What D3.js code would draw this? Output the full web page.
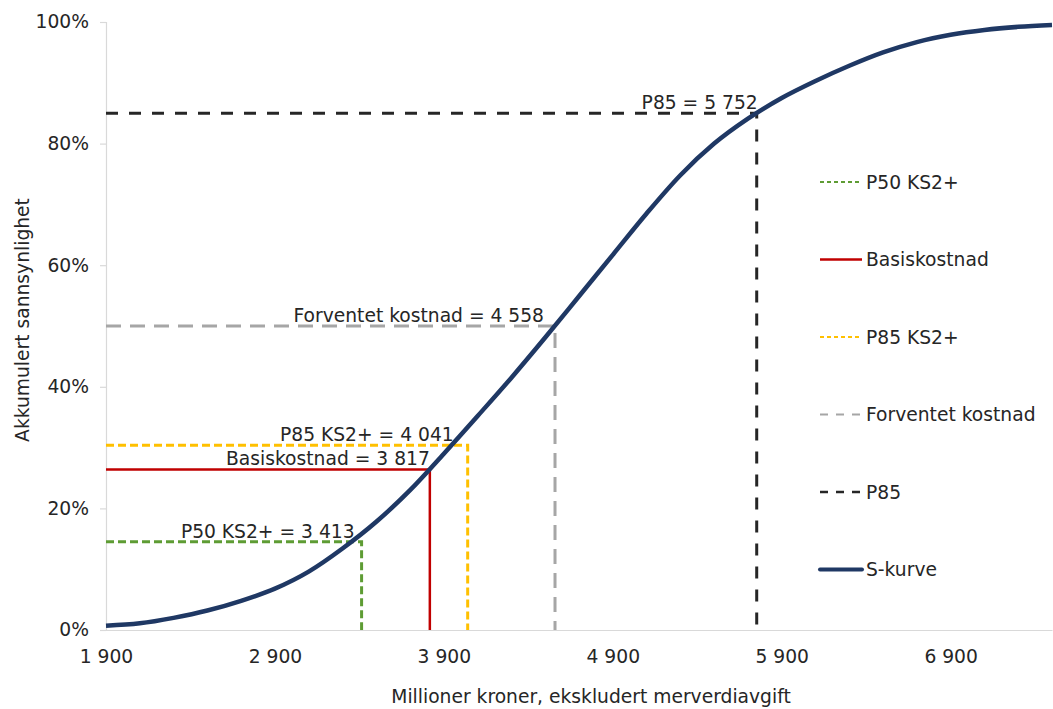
<!DOCTYPE html>
<html><head><meta charset="utf-8">
<script src="https://cdn.jsdelivr.net/npm/d3@7/dist/d3.min.js"></script>
<style>
html,body{margin:0;padding:0;background:#fff;}
text{font-family:"DejaVu Sans",Verdana,sans-serif;fill:#262626;}
</style></head>
<body>
<svg id="chart" width="1053" height="709"></svg>
<script>
// S-curve (cost in MNOK, cumulative probability in %)
const sCost = [1900,2100,2300,2500,2700,2900,3100,3300,3500,3700,3900,4100,4300,4500,4700,4900,5100,5300,5500,5700,5900,6100,6300,6500,6700,6900,7100,7300,7500];
const sProb = [0.7,1.1,2.0,3.2,4.8,6.8,9.6,13.4,17.8,23.0,29.0,35.2,41.5,48.1,54.9,61.7,68.5,74.8,80.0,84.1,87.5,90.3,92.8,95.0,96.7,97.9,98.7,99.2,99.5];

// Reference markers
const markerNames  = ["P50 KS2+","Basiskostnad","P85 KS2+","Forventet kostnad","P85"];
const markerLabels = ["P50 KS2+ = 3 413","Basiskostnad = 3 817","P85 KS2+ = 4 041","Forventet kostnad = 4 558","P85 = 5 752"];
const markerValues = [3413,3817,4041,4558,5752];
const markerProbs  = [14.5,26.4,30.4,50,85];

const legendNames = ["P50 KS2+","Basiskostnad","P85 KS2+","Forventet kostnad","P85","S-kurve"];

const xTicks = [1900,2900,3900,4900,5900,6900];
const yTicks = [0,20,40,60,80,100];
const xDomain = [1900,7500];

// styles
const FS = "18.7px";
const markerStyles = [
  {color:"#5e9c34", dash:"8,4", legendDash:"4,3", w:3, lw:2, dx:-7},
  {color:"#c00000", dash:null, legendDash:null, w:2.5, lw:2.5, dx:0},
  {color:"#ffc000", dash:"8,4", legendDash:"4,3", w:3, lw:2, dx:-14},
  {color:"#a6a6a6", dash:"15,9", legendDash:"8,8", w:3, lw:2, dx:-11},
  {color:"#262626", dash:"12,11", legendDash:"8,8", w:3, lw:2.5, dx:1}
];

const svg = d3.select("#chart");
const x = d3.scaleLinear().domain(xDomain).range([106,1052]);
const y = d3.scaleLinear().domain([0,100]).range([630,22]);
const fmt = d => d3.format(",")(d).replace(/,/g," ");

// axes
const yAxis = svg.append("g").attr("transform","translate(106,0)")
  .call(d3.axisLeft(y).tickValues(yTicks).tickSize(6).tickPadding(11).tickFormat(d=>d+"%"));
yAxis.selectAll("path,line").attr("stroke","#d9d9d9").attr("stroke-width",1.2);
yAxis.selectAll("text").style("font-size",FS).style("font-family","DejaVu Sans").attr("fill","#262626");

const xAxis = svg.append("g").attr("transform","translate(0,630)")
  .call(d3.axisBottom(x).tickValues(xTicks).tickSize(0).tickPadding(20).tickFormat(fmt));
xAxis.select("path").attr("stroke","#d9d9d9").attr("stroke-width",1.2);
xAxis.selectAll("text").style("font-size",FS).style("font-family","DejaVu Sans").attr("fill","#262626");

// axis titles
svg.append("text").attr("x",591).attr("y",703).attr("text-anchor","middle")
  .style("font-size",FS).text("Millioner kroner, ekskludert merverdiavgift");
svg.append("text").attr("transform","translate(29,320) rotate(-90)").attr("text-anchor","middle")
  .style("font-size",FS).text("Akkumulert sannsynlighet");

// marker lines
markerValues.forEach((v,i)=>{
  const st = markerStyles[i];
  const p = markerProbs[i];
  svg.append("path")
    .attr("d", d3.line()([[x(xDomain[0]), y(p)],[x(v), y(p)],[x(v), y(0)]]))
    .attr("fill","none").attr("stroke",st.color).attr("stroke-width",st.w)
    .attr("stroke-dasharray",st.dash);
});

// S-curve
const sData = sCost.map((c,i)=>[c,sProb[i]]);
svg.append("path").datum(sData)
  .attr("d", d3.line().x(d=>x(d[0])).y(d=>y(d[1])).curve(d3.curveMonotoneX))
  .attr("fill","none").attr("stroke","#1f3864").attr("stroke-width",4.5).attr("stroke-linejoin","round");

// marker labels
markerValues.forEach((v,i)=>{
  svg.append("text").attr("x", x(v)+markerStyles[i].dx).attr("y", y(markerProbs[i])-4)
    .attr("text-anchor","end").style("font-size",FS).text(markerLabels[i]);
});

// legend
const legY0 = 182, legStep = 77.5;
legendNames.forEach((n,i)=>{
  const yy = legY0 + i*legStep;
  const g = svg.append("g");
  if (i < markerStyles.length) {
    const st = markerStyles[i];
    g.append("line").attr("x1",820).attr("x2",862).attr("y1",yy).attr("y2",yy)
      .attr("stroke",st.color).attr("stroke-width",st.lw).attr("stroke-dasharray",st.legendDash);
  } else {
    g.append("line").attr("x1",820).attr("x2",862).attr("y1",yy).attr("y2",yy)
      .attr("stroke","#1f3864").attr("stroke-width",4).attr("stroke-linecap","round");
  }
  g.append("text").attr("x",866).attr("y",yy).attr("dy","0.36em").style("font-size",FS).text(n);
});
</script>
</body></html>
